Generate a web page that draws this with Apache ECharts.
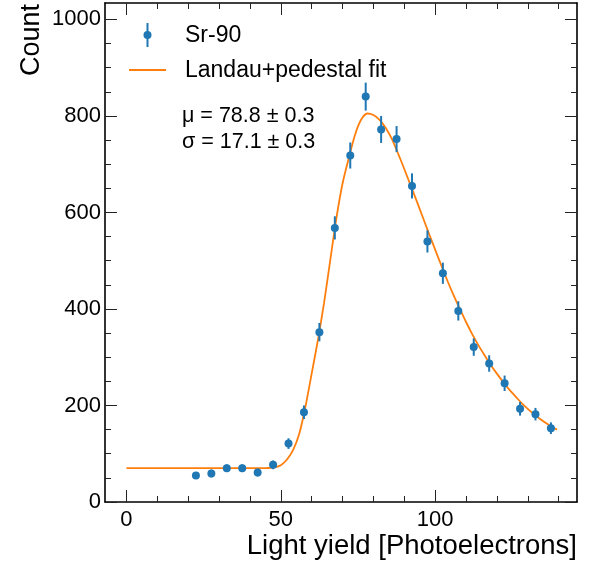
<!DOCTYPE html>
<html>
<head>
<meta charset="utf-8">
<script src="https://cdn.jsdelivr.net/npm/echarts@6/dist/echarts.min.js"></script>
<style>html,body{margin:0;padding:0;background:#fff}#c{width:592px;height:562px}</style>
</head>
<body>
<div id="c"></div>
<script>
// ---- data ----
var binCenters = [22.5, 27.5, 32.5, 37.5, 42.5, 47.5, 52.5, 57.5, 62.5, 67.5, 72.5, 77.5,
                  82.5, 87.5, 92.5, 97.5, 102.5, 107.5, 112.5, 117.5, 122.5, 127.5, 132.5, 137.5];
var counts = [55, 59, 70, 70, 61, 77, 121, 186, 352, 568, 718, 840,
              772, 752, 655, 540, 474, 396, 321, 287, 246, 193, 182, 153];
var countErrors = [7, 8, 8, 8, 8, 9, 11, 14, 19, 24, 27, 29,
                   28, 27, 26, 23, 22, 20, 18, 17, 16, 14, 13, 12];
var fitX = [0, 10, 20, 30, 40, 44, 46, 48, 50, 52, 54, 56, 58, 60, 62, 64, 66, 68, 70, 72, 74, 76, 78, 80,
            82, 84, 86, 88, 90, 92, 94, 96, 98, 100, 102, 104, 106, 108, 110, 112, 114, 116, 118,
            120, 122, 124, 126, 128, 130, 132, 134, 136, 138, 139.5];
var fitY = [70, 70, 70, 70, 70, 70, 70.5, 71.5, 76, 88, 108, 142, 198, 266, 335, 412, 500, 588, 660, 712, 760, 792, 805, 802,
            792, 775, 752, 722, 690, 657, 624, 590, 556, 523, 490, 458, 428, 400, 373, 348, 325, 304, 284,
            266, 249, 233, 219, 205, 193, 182, 172, 163, 155, 150];
var xMajorTicks = [0, 50, 100];
var xMinorTicks = [10, 20, 30, 40, 60, 70, 80, 90, 110, 120, 130, 140];
var yMajorTicks = [0, 200, 400, 600, 800, 1000];
var yMinorTicks = [50, 100, 150, 250, 300, 350, 450, 500, 550, 650, 700, 750, 850, 900, 950];
var seriesNames = ['Sr-90', 'Landau+pedestal fit'];
var fitParams = ['\u03bc = 78.8 \u00b1 0.3', '\u03c3 = 17.1 \u00b1 0.3'];
var xTitle = 'Light yield [Photoelectrons]';
var yTitle = 'Count';

// ---- chart ----
var FONT = '"Liberation Sans", Arial, Helvetica, sans-serif';
var XMIN = -6.95, XMAX = 145.95, YMIN = 0, YMAX = 1034;
var BLUE = '#1f77b4', ORANGE = '#ff7f0e';
function plain(v) { return String(v); }

function xAx(pos, ticks, len, labels, line) {
  return {
    type: 'value', min: XMIN, max: XMAX, position: pos, gridIndex: 0,
    axisLine: {show: line, onZero: false, lineStyle: {color: '#000', width: 1.6}},
    axisTick: {show: true, inside: true, length: len, customValues: ticks, lineStyle: {color: '#222', width: 1}},
    axisLabel: {show: labels, customValues: ticks, formatter: plain, fontSize: 22, color: '#000', fontFamily: FONT, margin: 7},
    splitLine: {show: false}, minorTick: {show: false}
  };
}
function yAx(pos, ticks, len, labels, line) {
  return {
    type: 'value', min: YMIN, max: YMAX, position: pos, gridIndex: 0,
    axisLine: {show: line, onZero: false, lineStyle: {color: '#000', width: 1.6}},
    axisTick: {show: true, inside: true, length: len, customValues: ticks, lineStyle: {color: '#222', width: 1}},
    axisLabel: {show: labels, customValues: ticks, formatter: plain, fontSize: 22, color: '#000', fontFamily: FONT, margin: 4},
    splitLine: {show: false}, minorTick: {show: false}
  };
}

var pts = binCenters.map(function (x, i) { return [x, counts[i]]; });
var errs = binCenters.map(function (x, i) { return [x, counts[i] - countErrors[i], counts[i] + countErrors[i]]; });
var fit = fitX.map(function (x, i) { return [x, fitY[i]]; });

var chart = echarts.init(document.getElementById('c'), null, {renderer: 'canvas'});
chart.setOption({
  animation: false,
  backgroundColor: '#fff',
  grid: {left: 105, right: 15, top: 3, bottom: 60, containLabel: false},
  xAxis: [
    xAx('bottom', xMajorTicks, 12, true, true),
    xAx('bottom', xMinorTicks, 6, false, false),
    xAx('top', xMajorTicks, 12, false, true),
    xAx('top', xMinorTicks, 6, false, false)
  ],
  yAxis: [
    yAx('left', yMajorTicks, 12, true, true),
    yAx('left', yMinorTicks, 6, false, false),
    yAx('right', yMajorTicks, 12, false, true),
    yAx('right', yMinorTicks, 6, false, false)
  ],
  series: [
    {
      name: seriesNames[1], type: 'line', data: fit, xAxisIndex: 0, yAxisIndex: 0,
      showSymbol: false, smooth: 0.25,
      lineStyle: {color: ORANGE, width: 1.8}, itemStyle: {color: ORANGE}, z: 2
    },
    {
      name: seriesNames[0] + ' errors', type: 'custom', data: errs, xAxisIndex: 0, yAxisIndex: 0,
      renderItem: function (params, api) {
        var lo = api.coord([api.value(0), api.value(1)]);
        var hi = api.coord([api.value(0), api.value(2)]);
        return {type: 'line', shape: {x1: lo[0], y1: lo[1], x2: hi[0], y2: hi[1]},
                style: {stroke: BLUE, lineWidth: 2}};
      },
      encode: {x: 0, y: [1, 2]}, z: 3
    },
    {
      name: seriesNames[0], type: 'scatter', data: pts, xAxisIndex: 0, yAxisIndex: 0,
      symbol: 'circle', symbolSize: 8, itemStyle: {color: BLUE, opacity: 1}, z: 4
    }
  ],
  graphic: [
    {type: 'text', x: 32, y: 40, rotation: Math.PI / 2,
     style: {text: yTitle, font: '27px ' + FONT, fill: '#000', textAlign: 'center', textVerticalAlign: 'middle'}},
    {type: 'text', x: 577, y: 546,
     style: {text: xTitle, font: '27.5px ' + FONT, fill: '#000', textAlign: 'right', textVerticalAlign: 'middle'}},
    {type: 'line', shape: {x1: 147.5, y1: 23, x2: 147.5, y2: 47}, style: {stroke: BLUE, lineWidth: 2}},
    {type: 'circle', shape: {cx: 147.5, cy: 35, r: 4}, style: {fill: BLUE}},
    {type: 'text', x: 185, y: 36, style: {text: seriesNames[0], font: '23px ' + FONT, fill: '#000', textAlign: 'left', textVerticalAlign: 'middle'}},
    {type: 'line', shape: {x1: 129, y1: 70, x2: 166, y2: 70}, style: {stroke: ORANGE, lineWidth: 2}},
    {type: 'text', x: 185, y: 71, style: {text: seriesNames[1], font: '23px ' + FONT, fill: '#000', textAlign: 'left', textVerticalAlign: 'middle'}},
    {type: 'text', x: 182, y: 116, style: {text: fitParams[0], font: '21.5px ' + FONT, fill: '#000', textAlign: 'left', textVerticalAlign: 'middle'}},
    {type: 'text', x: 182, y: 142, style: {text: fitParams[1], font: '21.5px ' + FONT, fill: '#000', textAlign: 'left', textVerticalAlign: 'middle'}}
  ]
});
</script>
</body>
</html>
